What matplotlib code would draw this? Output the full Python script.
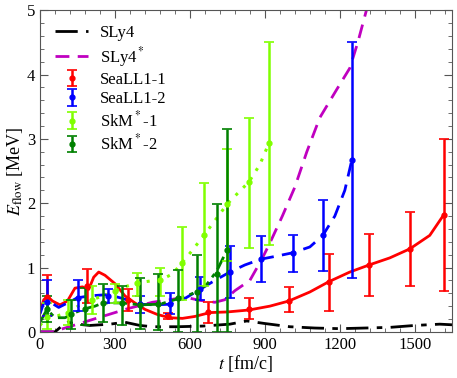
import matplotlib
matplotlib.use("Agg")
import matplotlib.pyplot as plt
import numpy as np

plt.rcParams['font.family'] = ['Liberation Serif', 'DejaVu Serif']
plt.rcParams['mathtext.fontset'] = 'stix'

# simulation curves
t_sly4 = [0, 60, 90, 112, 150, 200, 280, 340, 400, 450, 550, 650, 760, 828, 900,
          1000, 1100, 1200, 1300, 1400, 1500, 1600, 1650]
e_sly4 = [0, 0.0, 0.1, 0.15, 0.12, 0.1, 0.12, 0.15, 0.1, 0.08, 0.08, 0.09, 0.12, 0.17, 0.13,
          0.08, 0.06, 0.05, 0.06, 0.07, 0.1, 0.12, 0.11]

t_sly4s = [0, 50, 100, 150, 200, 250, 300, 350, 400, 450, 520, 580, 640, 700, 740, 780,
           840, 888, 920, 970, 1020, 1068, 1120, 1188, 1240, 1272, 1310]
e_sly4s = [0, 0.0, 0.06, 0.12, 0.18, 0.24, 0.3, 0.36, 0.41, 0.46, 0.5, 0.54, 0.49, 0.46, 0.5, 0.64,
           0.8, 1.13, 1.38, 1.8, 2.25, 2.8, 3.33, 3.77, 4.1, 4.5, 5.05]

t_sea1 = [0, 15, 30, 50, 80, 110, 140, 170, 195, 215, 235, 260, 300, 340, 380, 420, 470, 520,
          570, 620, 680, 750, 836, 920, 996, 1080, 1156, 1240, 1317, 1400, 1480, 1560, 1616]
e_sea1 = [0.3, 0.5, 0.55, 0.48, 0.42, 0.48, 0.68, 0.7, 0.66, 0.85, 0.93, 0.88, 0.75, 0.56, 0.45,
          0.35, 0.27, 0.22, 0.21, 0.24, 0.3, 0.31, 0.34, 0.4, 0.48, 0.62, 0.78, 0.93, 1.04, 1.15,
          1.29, 1.5, 1.82]

t_sea2 = [0, 15, 28, 50, 75, 110, 150, 200, 272, 330, 400, 460, 520, 580, 640, 700, 760, 820,
          884, 950, 1012, 1080, 1132, 1180, 1220, 1248]
e_sea2 = [0.28, 0.45, 0.47, 0.44, 0.38, 0.45, 0.53, 0.56, 0.58, 0.52, 0.43, 0.42, 0.43, 0.52,
          0.66, 0.8, 0.93, 1.04, 1.13, 1.18, 1.23, 1.32, 1.5, 1.8, 2.2, 2.67]

t_skm1 = [0, 28, 70, 112, 160, 208, 260, 300, 340, 388, 440, 480, 530, 568, 610, 656, 700,
          748, 790, 836, 880, 916]
e_skm1 = [0.1, 0.23, 0.25, 0.3, 0.42, 0.5, 0.57, 0.63, 0.7, 0.76, 0.79, 0.8, 0.9, 1.07, 1.27,
          1.5, 1.73, 1.98, 2.15, 2.33, 2.6, 2.93]

t_skm2 = [0, 28, 60, 100, 140, 180, 220, 252, 300, 332, 400, 480, 556, 628, 670, 708, 748]
e_skm2 = [0.15, 0.35, 0.22, 0.22, 0.3, 0.36, 0.4, 0.45, 0.45, 0.45, 0.42, 0.43, 0.52, 0.62,
          0.75, 0.95, 1.27]

# points with error bars (value, low, high)
tp_sea1 = [28, 188, 352, 512, 672, 836, 996, 1156, 1317, 1480, 1616]
ep_sea1 = [0.54, 0.72, 0.5, 0.25, 0.31, 0.35, 0.48, 0.78, 1.04, 1.29, 1.82]
lo_sea1 = [0.25, 0.45, 0.33, 0.2, 0.14, 0.2, 0.31, 0.33, 0.55, 0.71, 0.63]
hi_sea1 = [0.88, 0.98, 0.67, 0.3, 0.47, 0.53, 0.7, 1.21, 1.52, 1.87, 3.0]

tp_sea2 = [28, 152, 272, 400, 520, 640, 760, 884, 1012, 1132, 1248]
ep_sea2 = [0.47, 0.53, 0.55, 0.43, 0.43, 0.66, 0.93, 1.13, 1.23, 1.5, 2.67]
lo_sea2 = [0.25, 0.33, 0.45, 0.3, 0.28, 0.5, 0.52, 0.77, 0.93, 0.95, 0.84]
hi_sea2 = [0.8, 0.8, 0.67, 0.55, 0.6, 0.86, 1.33, 1.49, 1.5, 2.05, 4.5]

tp_skm1 = [28, 112, 208, 300, 388, 480, 568, 656, 748, 836, 916]
ep_skm1 = [0.23, 0.3, 0.5, 0.63, 0.76, 0.8, 1.07, 1.5, 1.98, 2.33, 2.93]
lo_skm1 = [0.05, 0.1, 0.28, 0.45, 0.55, 0.55, 0.5, 0.72, 1.1, 1.3, 1.35]
hi_skm1 = [0.45, 0.5, 0.72, 0.75, 0.91, 1.0, 1.63, 2.32, 2.85, 3.33, 4.5]

tp_skm2 = [28, 124, 180, 252, 328, 400, 472, 552, 628, 708, 748]
ep_skm2 = [0.35, 0.28, 0.36, 0.45, 0.45, 0.42, 0.43, 0.52, 0.62, 0.9, 1.27]
lo_skm2 = [0.15, 0.05, 0.1, 0.15, 0.1, 0.05, 0.03, 0.0, 0.0, 0.0, 0.0]
hi_skm2 = [0.55, 0.5, 0.68, 0.75, 0.72, 0.83, 0.9, 0.96, 1.19, 1.99, 3.15]

RED = '#ff0000'
BLUE = '#0000ff'
LGREEN = '#80ff00'
DGREEN = '#008000'
MAGENTA = '#c000c0'

fig = plt.figure(figsize=(4.57, 3.78), dpi=100)
ax = fig.add_axes([0.0875, 0.122, 0.901, 0.851])

ax.plot(t_sly4, e_sly4, color='black', lw=2, dashes=(8, 3, 2, 3), label='SLy4')
ax.plot(t_sly4s, e_sly4s, color=MAGENTA, lw=2, dashes=(5, 3), label='SLy4$^*$')
ax.plot(t_sea1, e_sea1, color=RED, lw=2)
ax.plot(t_sea2, e_sea2, color=BLUE, lw=2, dashes=(5, 3))
ax.plot(t_skm1, e_skm1, color=LGREEN, lw=2.2, dashes=(1, 2.5))
ax.plot(t_skm2, e_skm2, color=DGREEN, lw=2, dashes=(5, 2, 1.5, 2))


def err(ep, lo, hi):
    ep = np.array(ep)
    return [ep - np.array(lo), np.array(hi) - ep]


series = [
    (tp_sea1, ep_sea1, lo_sea1, hi_sea1, RED, 'SeaLL1-1'),
    (tp_sea2, ep_sea2, lo_sea2, hi_sea2, BLUE, 'SeaLL1-2'),
    (tp_skm1, ep_skm1, lo_skm1, hi_skm1, LGREEN, 'SkM$^*$-1'),
    (tp_skm2, ep_skm2, lo_skm2, hi_skm2, DGREEN, 'SkM$^*$-2'),
]
for tp, ep, lo, hi, c, lab in series:
    ax.errorbar(tp, ep, yerr=err(ep, lo, hi), fmt='o', color=c, ms=3.5,
                elinewidth=1.8, capsize=3.5, capthick=1.2, label=lab)

ax.set_xlim(0, 1648)
ax.set_ylim(0, 5)
ax.set_xticks([0, 300, 600, 900, 1200, 1500])
ax.set_xticks(np.arange(0, 1648, 60), minor=True)
ax.set_yticks([0, 1, 2, 3, 4, 5])
ax.set_yticks(np.arange(0, 5.01, 0.2), minor=True)
ax.tick_params(which='both', direction='in', top=True, right=True, labelsize=12,
               color='#555555')
ax.tick_params(which='major', length=6)
ax.tick_params(which='minor', length=3)
for s in ax.spines.values():
    s.set_color('#555555')

ax.set_xlabel('$t$ [fm/c]', fontsize=13, labelpad=0)
ax.set_ylabel('$E_{\\rm flow}$ [MeV]', fontsize=13, labelpad=1)

ax.legend(loc='upper left', frameon=False, fontsize=12, handlelength=2.0,
          labelspacing=0.2, borderaxespad=0.5, handletextpad=0.7)

fig.savefig('out.png', dpi=100)
